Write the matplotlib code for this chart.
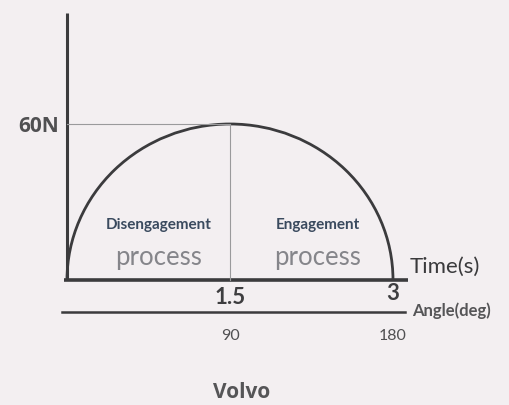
import matplotlib
matplotlib.use("Agg")
import matplotlib.pyplot as plt
from matplotlib.patches import Arc

# Force profile of one shift cycle
peak_force = 60          # N
cycle_time = 3.0         # s
half_time = 1.5          # s
time_ticks = [1.5, 3]
time_tick_labels = ["1.5", "3"]
angle_ticks = [90, 180]
angle_tick_labels = ["90", "180"]
angle_max = 180          # deg reached at cycle_time
phase_titles = ["Disengagement", "Engagement"]
phase_subtitles = ["process", "process"]

line_col = "#3b3b3d"
bg = "#f3eff1"
FONT = ["Lato", "DejaVu Sans"]
WIDE = ["Open Sans", "DejaVu Sans"]

fig = plt.figure(figsize=(5.09, 4.05), dpi=100, facecolor=bg)
ax = fig.add_axes([0, 0, 1, 1])
ax.set_facecolor(bg)

# pixel layout: t=0 at x=67px, t=3 at x=393px; F=0 at y=280px, F=60 at y=124px
px_per_s = (393 - 67) / cycle_time
px_per_n = (280 - 124) / peak_force
ax.set_xlim(-67 / px_per_s, (509 - 67) / px_per_s)
ax.set_ylim((280 - 405) / px_per_n, 280 / px_per_n)
ax.axis("off")

def X(px):
    return (px - 67) / px_per_s

def Y(py):
    return (280 - py) / px_per_n

# axes
ax.plot([0, 0], [0, Y(13)], color=line_col, lw=2.2, solid_capstyle="butt")
ax.plot([X(64), X(408)], [0, 0], color=line_col, lw=2.6, solid_capstyle="butt")

# 60 N reference line and mid-cycle divider
ax.plot([0, half_time], [peak_force, peak_force], color="#9a9a9c", lw=0.8)
ax.plot([half_time, half_time], [0, peak_force], color="#9a9a9c", lw=0.8)

# force curve: half ellipse spanning the cycle
ax.add_patch(Arc((cycle_time / 2, 0), cycle_time, 2 * peak_force,
                 theta1=0, theta2=180, color=line_col, lw=2.0))

# angle axis below the time axis
angle_y = Y(312)
ax.plot([X(62), X(405)], [angle_y, angle_y], color=line_col, lw=1.8)

ax.text(X(59), peak_force - 1, f"{peak_force}N", ha="right", va="center",
        fontsize=15, fontweight="bold", color="#505052", family=WIDE)

for t, lab, ty in zip(time_ticks, time_tick_labels, [297, 294]):
    ax.text(t, Y(ty), lab, ha="center", va="center", fontsize=16,
            fontweight="bold", color="#3e3e40", family=FONT)
ax.text(X(410), Y(267), "Time(s)", ha="left", va="center", fontsize=16,
        color="#3a3a3c", family=FONT)

for a, lab in zip(angle_ticks, angle_tick_labels):
    ax.text(a / angle_max * cycle_time, Y(336), lab, ha="center", va="center",
            fontsize=11.5, color="#505052", family=FONT)
ax.text(X(412), Y(311), "Angle(deg)", ha="left", va="center", fontsize=12,
        fontweight="bold", color="#555557", family=FONT)

for cx, title, sub in zip([X(159), X(318)], phase_titles, phase_subtitles):
    ax.text(cx, Y(225), title, ha="center", va="center", fontsize=11,
            fontweight="bold", color="#3a4a5e", family=FONT)
    ax.text(cx, Y(258), sub, ha="center", va="center", fontsize=18.5,
            color="#85858a", family=FONT)

ax.text(X(242), Y(393), "Volvo", ha="center", va="center", fontsize=15,
        fontweight="bold", color="#555557", family=WIDE)

fig.savefig("out.png", dpi=100, facecolor=bg)
